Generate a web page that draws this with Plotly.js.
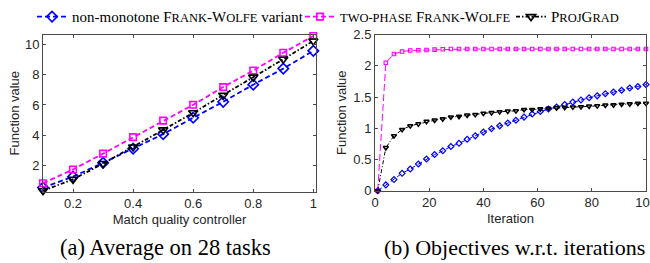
<!DOCTYPE html>
<html>
<head>
<meta charset="utf-8">
<script src="https://cdn.plot.ly/plotly-3.0.1.min.js"></script>
<style>html,body{margin:0;padding:0;background:#fff;}#chart{width:650px;height:263px;}</style>
</head>
<body>
<div id="chart"></div>
<script>
// ---- data: (a) average on 28 tasks ----
const matchQuality = [0.1, 0.2, 0.3, 0.4, 0.5, 0.6, 0.7, 0.8, 0.9, 1.0];
const nonMonoAvg   = [0.50, 1.23, 2.15, 3.09, 4.06, 5.15, 6.21, 7.35, 8.42, 9.60];
const twoPhaseAvg  = [0.79, 1.71, 2.76, 3.86, 4.96, 6.01, 7.19, 8.29, 9.47, 10.59];
const projGradAvg  = [0.29, 1.05, 2.10, 3.20, 4.34, 5.48, 6.64, 7.85, 9.04, 10.26];

// ---- data: (b) objectives w.r.t. iterations ----
const iterations = [1, 4, 7, 10, 13, 16, 19, 22, 25, 28, 31, 34, 37, 40, 43, 46, 49,
                    52, 55, 58, 61, 64, 67, 70, 73, 76, 79, 82, 85, 88, 91, 94, 97, 100];
const nonMonoIter  = [0, 0.095, 0.18, 0.28, 0.35, 0.43, 0.51, 0.58, 0.64, 0.71, 0.76, 0.825,
                      0.88, 0.94, 0.995, 1.04, 1.085, 1.13, 1.18, 1.23, 1.27, 1.31, 1.34, 1.38,
                      1.42, 1.455, 1.49, 1.52, 1.555, 1.58, 1.61, 1.645, 1.67, 1.70];
const twoPhaseIter = [0, 2.05, 2.19, 2.23, 2.245, 2.25, 2.255, 2.26, 2.265, 2.27, 2.27, 2.27,
                      2.27, 2.27, 2.27, 2.27, 2.27, 2.27, 2.27, 2.27, 2.27, 2.27, 2.27, 2.27,
                      2.27, 2.27, 2.27, 2.27, 2.27, 2.27, 2.27, 2.27, 2.27, 2.27];
const projGradIter = [0, 0.69, 0.88, 0.98, 1.04, 1.07, 1.11, 1.13, 1.15, 1.18, 1.19, 1.21,
                      1.22, 1.24, 1.25, 1.265, 1.275, 1.28, 1.30, 1.30, 1.31, 1.32, 1.33, 1.335,
                      1.34, 1.345, 1.355, 1.36, 1.37, 1.375, 1.385, 1.39, 1.40, 1.40];

// ---- tick labels ----
const leftXTicks = [0.2, 0.4, 0.6, 0.8, 1];
const leftXTickText = ['0.2', '0.4', '0.6', '0.8', '1'];
const leftYTicks = [2, 4, 6, 8, 10];
const rightXTicks = [0, 20, 40, 60, 80, 100];
const rightYTicks = [0, 0.5, 1, 1.5, 2, 2.5];
const rightYTickText = ['0', '0.5', '1', '1.5', '2', '2.5'];

// ---- legend labels (small caps emulated) ----
const sc = s => "<span style='font-size:12.5px'>" + s + "</span>";
const nameNonMono  = 'non-monotone F' + sc('RANK') + '-W' + sc('OLFE') + ' variant';
const nameTwoPhase = sc('TWO-PHASE') + ' F' + sc('RANK') + '-W' + sc('OLFE');
const nameProjGrad = 'P' + sc('ROJ') + 'G' + sc('RAD');

const BLUE = '#0000ff', MAG = '#ff00ff', BLK = '#000000';
const SERIF = 'Liberation Serif';
const SANS = 'Liberation Sans';

const traces = [
  {x: matchQuality, y: nonMonoAvg, xaxis: 'x', yaxis: 'y', name: nameNonMono, legend: 'legend',
   mode: 'lines+markers', cliponaxis: false,
   line: {color: BLUE, width: 1.8, dash: '5px,3px'},
   marker: {symbol: 'diamond-open', size: 8, color: BLUE, line: {width: 1.6, color: BLUE}}},
  {x: matchQuality, y: twoPhaseAvg, xaxis: 'x', yaxis: 'y', name: nameTwoPhase, legend: 'legend2',
   mode: 'lines+markers', cliponaxis: false,
   line: {color: MAG, width: 1.8, dash: '5px,3px'},
   marker: {symbol: 'square-open', size: 6.5, color: MAG, line: {width: 1.6, color: MAG}}},
  {x: matchQuality, y: projGradAvg, xaxis: 'x', yaxis: 'y', name: nameProjGrad, legend: 'legend3',
   mode: 'lines+markers', cliponaxis: false,
   line: {color: BLK, width: 1.8, dash: '4px,2px,1.5px,2px'},
   marker: {symbol: 'triangle-down-open', size: 8, color: BLK, line: {width: 1.6, color: BLK}}},

  {x: iterations, y: nonMonoIter, xaxis: 'x2', yaxis: 'y2', showlegend: false,
   mode: 'lines+markers', cliponaxis: false,
   line: {color: BLUE, width: 1, dash: '5px,3px'},
   marker: {symbol: 'diamond-open', size: 4.5, color: BLUE, line: {width: 1.2, color: BLUE}}},
  {x: iterations, y: twoPhaseIter, xaxis: 'x2', yaxis: 'y2', showlegend: false,
   mode: 'lines+markers', cliponaxis: false,
   line: {color: MAG, width: 1, dash: '7px,3px'},
   marker: {symbol: 'square-open', size: 3.5, color: MAG, line: {width: 1.1, color: MAG}}},
  {x: iterations, y: projGradIter, xaxis: 'x2', yaxis: 'y2', showlegend: false,
   mode: 'lines+markers', cliponaxis: false,
   line: {color: BLK, width: 1, dash: '4px,2px,1px,2px'},
   marker: {symbol: 'triangle-down-open', size: 4.5, color: BLK, line: {width: 1.5, color: BLK}}}
];

const W = 650, H = 263;
const axFont = {family: SANS, size: 13, color: '#262626'};
const axisCommon = {
  showline: true, linecolor: '#4a4a4a', linewidth: 1, mirror: 'ticks',
  ticks: 'inside', ticklen: 3, tickcolor: '#4a4a4a', tickwidth: 1,
  showgrid: false, zeroline: false, tickfont: axFont, fixedrange: true,
  ticklabeloverflow: 'allow'
};
const legFont = {family: SERIF, size: 15, color: '#000'};
const legCommon = {orientation: 'h', xanchor: 'left', yanchor: 'middle', y: 1 - 14 / H,
  bgcolor: 'rgba(0,0,0,0)', borderwidth: 0, font: legFont, itemwidth: 30};

const layout = {
  width: W, height: H, margin: {l: 0, r: 0, t: 0, b: 0},
  paper_bgcolor: '#fff', plot_bgcolor: '#fff',
  font: {family: SANS},
  xaxis: Object.assign({}, axisCommon, {domain: [43 / W, 316 / W], range: [0.1, 1.009],
    tickvals: leftXTicks, ticktext: leftXTickText, anchor: 'y',
    title: {text: 'Match quality controller', font: axFont, standoff: 4}}),
  yaxis: Object.assign({}, axisCommon, {domain: [(H - 191) / H, (H - 32) / H], range: [0.22, 10.68],
    tickvals: leftYTicks, anchor: 'x',
    title: {text: 'Function value', font: axFont, standoff: 2}}),
  xaxis2: Object.assign({}, axisCommon, {domain: [375 / W, 646 / W], range: [0, 100],
    tickvals: rightXTicks, anchor: 'y2',
    title: {text: 'Iteration', font: axFont, standoff: 4}}),
  yaxis2: Object.assign({}, axisCommon, {domain: [(H - 190) / H, (H - 32) / H], range: [0, 2.5],
    tickvals: rightYTicks, ticktext: rightYTickText, anchor: 'x2',
    title: {text: 'Function value', font: axFont, standoff: 3}}),
  legend: Object.assign({}, legCommon, {x: 32 / W}),
  legend2: Object.assign({}, legCommon, {x: 300 / W}),
  legend3: Object.assign({}, legCommon, {x: 511 / W}),
  annotations: [
    {text: '(a) Average on 28 tasks', xref: 'paper', yref: 'paper', x: 165.5 / W, y: (H - 247) / H,
     xanchor: 'center', yanchor: 'middle', showarrow: false,
     font: {family: SERIF, size: 22.5, color: '#000'}},
    {text: '(b) Objectives w.r.t. iterations', xref: 'paper', yref: 'paper', x: 514 / W, y: (H - 247) / H,
     xanchor: 'center', yanchor: 'middle', showarrow: false,
     font: {family: SERIF, size: 22, color: '#000'}}
  ],
  showlegend: true
};

Plotly.newPlot('chart', traces, layout, {displayModeBar: false, staticPlot: true});
</script>
</body>
</html>
